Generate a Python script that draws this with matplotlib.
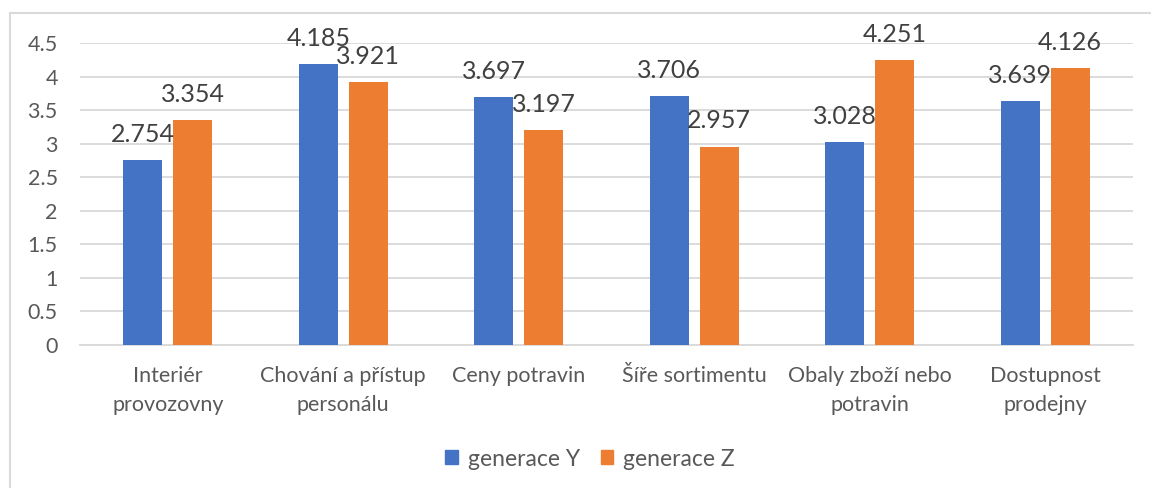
import numpy as np
import matplotlib
matplotlib.use("Agg")
from matplotlib import pyplot as plt
from matplotlib.patches import Patch, Rectangle

categories = ["Interiér\nprovozovny", "Chování a přístup\npersonálu", "Ceny potravin",
              "Šíře sortimentu", "Obaly zboží nebo\npotravin", "Dostupnost\nprodejny"]
gen_y = [2.754, 4.185, 3.697, 3.706, 3.028, 3.639]
gen_z = [3.354, 3.921, 3.197, 2.957, 4.251, 4.126]
yticks = [0, 0.5, 1, 1.5, 2, 2.5, 3, 3.5, 4, 4.5]
ytick_labels = ["0", "0.5", "1", "1.5", "2", "2.5", "3", "3.5", "4", "4.5"]

blue = "#4472c4"
orange = "#ed7d31"
text_col = "#595959"

plt.rcParams["font.family"] = ["Lato", "DejaVu Sans"]

fig = plt.figure(figsize=(11.51, 4.88), dpi=100)
# outer chart frame
fig.patches.append(Rectangle((10 / 1151, -0.1), 1.2, 1 - 13 / 488 + 0.1,
                             transform=fig.transFigure, fill=False,
                             edgecolor="#d9d9d9", linewidth=1.5))

ax = fig.add_axes([80 / 1151, 1 - 345 / 488, (1133 - 80) / 1151, (345 - 43) / 488])

x = np.arange(len(categories))
w = 0.222
off = 0.142
ax.bar(x - off, gen_y, width=w, color=blue, zorder=3)
ax.bar(x + off, gen_z, width=w, color=orange, zorder=3)

for xi, v in zip(x, gen_y):
    ax.annotate(f"{v:.3f}", (xi - off, v), xytext=(0, 13), textcoords="offset points",
                ha="center", va="baseline", fontsize=18, color="#404040")
for xi, v in zip(x, gen_z):
    ax.annotate(f"{v:.3f}", (xi + off, v), xytext=(0, 13), textcoords="offset points",
                ha="center", va="baseline", fontsize=18, color="#404040")

ax.set_xlim(-0.5, len(categories) - 0.5)
ax.set_ylim(0, 4.5)
ax.set_yticks(yticks)
ax.set_yticklabels(ytick_labels)
ax.set_xticks(x)
ax.set_xticklabels(categories, linespacing=1.55)
ax.tick_params(axis="y", length=0, pad=16, labelsize=15.5, labelcolor=text_col)
ax.tick_params(axis="x", length=0, pad=15, labelsize=15.5, labelcolor=text_col)
ax.grid(axis="y", color="#d9d9d9", linewidth=1.3, zorder=0)
for s in ["top", "right", "left"]:
    ax.spines[s].set_visible(False)
ax.spines["bottom"].set_color("#d9d9d9")
ax.spines["bottom"].set_linewidth(1.3)

handles = [Patch(color=blue, label="generace Y"), Patch(color=orange, label="generace Z")]
fig.legend(handles=handles, loc="center", bbox_to_anchor=(590 / 1151, 1 - 459 / 488),
           ncol=2, frameon=False, fontsize=16.5, labelcolor=text_col,
           handlelength=0.55, handleheight=0.55, handletextpad=0.45, columnspacing=0.9)

fig.savefig("out.png", dpi=100)
